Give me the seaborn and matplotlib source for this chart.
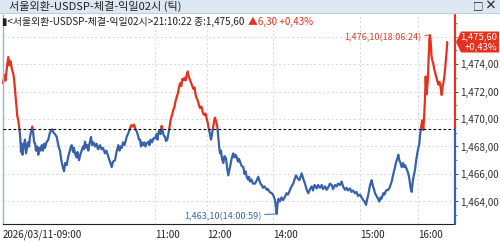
import matplotlib
matplotlib.use("Agg")
import matplotlib.pyplot as plt
import seaborn as sns
import pandas as pd
from matplotlib.patches import Rectangle, Polygon
from matplotlib.lines import Line2D
from matplotlib.ticker import FuncFormatter, MultipleLocator

# ---------------- data ----------------
tick_seq = [3, 4.5, 5.5, 7, 8.3, 9.5, 10.5, 12, 13.3, 14.2, 15, 16, 17.3, 18.3, 19.3, 20.3, 21, 21.7, 22.5, 23.5,
            25, 26, 26.7, 28, 29, 30, 31.2, 32.3, 33.3, 34.2, 35, 36, 37.2, 38.3, 39.5, 40.5, 41.7, 43, 44, 45,
            46.5, 48.3, 49.5, 50.5, 52.3, 53.5, 55, 56.7, 58, 59, 60, 61.3, 62.5, 64, 65.2, 66.7, 68, 69.5, 70.5, 71.7,
            73, 74, 75, 76.5, 77.5, 79, 80.3, 81.7, 83, 84, 85, 86.5, 87.5, 88.3, 89.5, 91, 92.2, 93.5, 95, 96.5,
            98, 100, 101.5, 103, 105, 106.5, 108.3, 110, 111.7, 113, 115, 116.5, 118.3, 119.5, 120.7, 121.7, 123, 124.5, 126.7, 128.5,
            130, 131.3, 132.7, 134, 135.3, 136.7, 138, 139, 140, 141, 142.2, 143.3, 144.5, 145.5, 146.5, 148.3, 149.5, 150.5, 152, 153.5,
            155, 156.5, 157.5, 158.3, 159.5, 160.5, 161.7, 162.7, 163.7, 165, 166, 167.3, 168.3, 169.3, 170.5, 171.7, 173.3, 174.5, 175.5, 176.7,
            178, 179, 180, 181.3, 182.3, 183.3, 184.5, 185.5, 186.7, 187.7, 188.7, 190, 191.2, 192.3, 193.3, 194.5, 195.5, 196.7, 198, 199,
            200, 201.5, 202.7, 204, 205.5, 206.7, 207.8, 209, 210, 211, 212.2, 213.3, 214.2, 215, 216.2, 217.3, 218.5, 219.3, 220, 221,
            222, 223.3, 224.5, 226, 227, 228.3, 229.2, 230, 231.3, 232.3, 233.3, 234.5, 235.5, 236.7, 238, 239, 240, 241.5, 243.3, 244.5,
            245.5, 246.7, 248, 249, 250, 251.5, 253, 255, 256.5, 258.3, 259.5, 260.5, 261.7, 263, 264.5, 266.7, 268, 269.5, 271.7, 273,
            274, 275, 275.8, 276.7, 277.5, 278.5, 280, 281.5, 283, 285, 286.5, 288, 290, 291.5, 293.3, 294.5, 296, 297.5, 299.3, 300.5,
            301.7, 303, 305, 306.5, 308.3, 310, 311.7, 313, 314.5, 316.7, 318, 320, 321.7, 323, 325, 326.7, 328, 330, 331.7, 333,
            335, 336.7, 338, 340, 341.7, 343, 345, 346.5, 348, 350, 351.5, 353, 355, 356.5, 358, 360, 361.5, 363.3, 364.5, 366,
            367, 368.3, 369.5, 370.5, 371.7, 373, 374, 375, 376.5, 378, 379.3, 380.5, 381.5, 383.3, 384.5, 386, 388.3, 389.5, 390.5, 391.7,
            393, 394, 395, 396.2, 397.3, 398.3, 399.3, 400.5, 401.7, 403, 404, 405, 406.5, 408.3, 409.5, 410.5, 411.7, 412.5, 413.5, 415,
            416, 417.3, 418.3, 419.3, 420, 420.7, 421.5, 422.3, 423.3, 424.3, 425, 425.7, 426.5, 427.3, 428, 428.3, 429, 429.3, 430, 430.7,
            431.5, 432.5, 433.3, 434.2, 435, 436, 436.7, 437.5, 438.3, 439.2, 440, 441, 441.7, 442.5, 443.3, 444.2, 445, 446, 446.7, 447.3]

price = [1472.6, 1473.2, 1472.8, 1473.8, 1474.5, 1473.9, 1474.2, 1473.6, 1473.3, 1472.8, 1472.1, 1471.3, 1470.2, 1469.9, 1469.3, 1468.6, 1467.6, 1468.2, 1467.4, 1468.0,
         1468.5, 1467.5, 1467.8, 1468.3, 1468.0, 1468.7, 1469.1, 1469.45, 1468.9, 1468.3, 1468.25, 1467.7, 1468.0, 1467.4, 1467.9, 1467.7, 1468.1, 1467.7, 1468.2, 1467.9,
         1468.3, 1468.5, 1468.9, 1469.1, 1469.25, 1469.0, 1468.9, 1468.7, 1468.2, 1467.9, 1467.7, 1467.0, 1466.6, 1466.2, 1466.8, 1466.65, 1467.2, 1467.6, 1467.9, 1468.1,
         1467.6, 1467.9, 1467.5, 1467.2, 1467.6, 1467.0, 1467.4, 1467.7, 1468.0, 1467.8, 1468.35, 1467.9, 1468.1, 1467.7, 1468.2, 1468.7, 1468.1, 1468.3, 1468.0, 1468.2,
         1467.8, 1468.1, 1467.8, 1467.9, 1467.5, 1467.7, 1467.25, 1466.9, 1466.5, 1466.9, 1467.0, 1467.6, 1468.1, 1467.7, 1468.0, 1467.9, 1468.3, 1468.1, 1468.7, 1469.0,
         1469.3, 1469.55, 1469.45, 1469.6, 1469.3, 1469.1, 1468.8, 1468.5, 1468.5, 1468.0, 1468.3, 1468.1, 1468.3, 1468.0, 1468.2, 1468.35, 1468.1, 1468.5, 1468.3, 1468.6,
         1468.6, 1468.9, 1468.5, 1468.95, 1469.2, 1468.9, 1469.5, 1469.1, 1468.8, 1468.7, 1468.4, 1468.5, 1468.9, 1469.3, 1469.9, 1470.2, 1470.65, 1470.9, 1471.3, 1471.6,
         1471.9, 1472.3, 1472.6, 1472.4, 1472.9, 1472.85, 1473.0, 1472.8, 1473.2, 1473.45, 1473.1, 1472.85, 1472.6, 1472.4, 1472.2, 1472.3, 1471.8, 1471.5, 1471.3, 1471.0,
         1470.8, 1470.9, 1470.5, 1470.3, 1470.4, 1470.05, 1469.7, 1469.2, 1468.9, 1468.5, 1469.0, 1469.45, 1469.9, 1470.1, 1469.8, 1469.45, 1468.5, 1467.9, 1467.5, 1467.7,
         1467.1, 1466.8, 1467.3, 1467.15, 1466.5, 1465.9, 1466.2, 1466.5, 1467.0, 1467.3, 1467.5, 1467.2, 1467.4, 1467.25, 1466.9, 1467.1, 1466.9, 1466.6, 1466.5, 1466.0,
         1466.2, 1465.8, 1465.6, 1465.8, 1465.45, 1465.6, 1465.3, 1465.3, 1465.5, 1465.8, 1465.5, 1465.3, 1465.2, 1465.0, 1465.1, 1464.85, 1464.9, 1464.7, 1464.6, 1464.5,
         1464.3, 1464.1, 1463.6, 1463.1, 1463.8, 1464.2, 1464.0, 1464.3, 1464.1, 1464.35, 1464.6, 1464.5, 1464.85, 1465.1, 1465.3, 1465.6, 1465.9, 1465.7, 1465.55, 1465.8,
         1466.05, 1465.7, 1465.3, 1464.9, 1464.6, 1464.9, 1465.1, 1464.8, 1465.2, 1464.95, 1465.2, 1465.0, 1465.2, 1464.9, 1465.1, 1464.85, 1465.0, 1465.3, 1465.2, 1464.9,
         1465.2, 1465.1, 1465.3, 1465.2, 1465.45, 1465.1, 1464.85, 1465.0, 1464.8, 1464.95, 1464.7, 1464.8, 1464.6, 1464.7, 1464.4, 1464.5, 1464.3, 1464.1, 1464.0, 1463.75,
         1464.1, 1464.5, 1465.0, 1465.3, 1465.55, 1465.1, 1464.9, 1464.6, 1464.4, 1464.2, 1464.0, 1464.3, 1464.2, 1464.6, 1464.5, 1464.8, 1464.85, 1465.0, 1465.2, 1465.45,
         1465.9, 1466.2, 1466.5, 1466.9, 1467.1, 1467.4, 1467.0, 1466.8, 1466.5, 1466.8, 1466.5, 1466.65, 1466.4, 1466.05, 1465.6, 1465.0, 1464.7, 1465.3, 1465.8, 1466.3,
         1466.9, 1467.5, 1467.9, 1468.2, 1468.8, 1469.2, 1469.6, 1469.9, 1469.2, 1470.4, 1471.5, 1473.1, 1471.8, 1472.35, 1473.0, 1473.8, 1475.0, 1475.75, 1476.1, 1475.6,
         1474.6, 1474.2, 1474.05, 1473.6, 1473.45, 1473.1, 1472.95, 1472.7, 1472.5, 1472.7, 1472.6, 1472.1, 1471.75, 1472.3, 1472.6, 1473.0, 1473.55, 1474.4, 1475.0, 1475.6]

prev_close = 1469.30
last_price = 1475.60
change_pct = 0.43
high_val, high_time = 1476.10, "18:06:24"
low_val, low_time = 1463.10, "14:00:59"
xtick_pos = [3, 155, 207, 273, 360, 418]
xtick_labels = ["2026/03/11-09:00", "11:00", "12:00", "14:00", "15:00", "16:00"]
ytick_vals = [1464, 1466, 1468, 1470, 1472, 1474]
grid_vals = [1464, 1466, 1468, 1470, 1472, 1474, 1476]
title = "서울외환-USDSP-체결-익일02시 (틱)"
info_text = "▮<서울외환-USDSP-체결-익일02시>21:10:22 종:1,475,60"
info_change = "▲6,30 +0,43%"

RED = "#E4321E"
BLUE = "#3762AA"
FONT = ["Noto Sans CJK KR", "DejaVu Sans"]


def kfmt(v):
    return f"{v:,.2f}".replace(".", ",")


sns.set_style("white")
plt.rcParams["font.family"] = FONT

W, H = 500, 242
fig = plt.figure(figsize=(W / 100, H / 100), dpi=100)
fig.patch.set_facecolor("white")
ax_left, ax_right, ax_top, ax_bot = 3, 455, 15, 224
ax = fig.add_axes([ax_left / W, (H - ax_bot) / H, (ax_right - ax_left) / W, (ax_bot - ax_top) / H])
ax.set_facecolor("white")

x_lo, x_hi = 3, 455
y_lo = 1470 - (ax_bot - 119) / 13.75
y_hi = 1470 + (119 - ax_top) / 13.75
ax.set_xlim(x_lo, x_hi)
ax.set_ylim(y_lo, y_hi)

df = pd.DataFrame({"seq": tick_seq, "price": price})
sns.lineplot(data=df, x="seq", y="price", color=RED, lw=1.6, estimator=None, ax=ax)
red_line = ax.lines[-1]
sns.lineplot(data=df, x="seq", y="price", color=BLUE, lw=1.6, estimator=None, ax=ax)
blue_line = ax.lines[-1]
red_clip = Rectangle((x_lo - 10, prev_close), 1000, 100, transform=ax.transData)
blue_clip = Rectangle((x_lo - 10, prev_close - 100), 1000, 100, transform=ax.transData)
red_line.set_clip_path(red_clip)
blue_line.set_clip_path(blue_clip)

# previous close line
ax.axhline(prev_close, color="black", lw=0.8, ls=(0, (2.5, 2)), zorder=3)

# grid
for gy in grid_vals:
    ax.axhline(gy, color="#D5D5D5", lw=0.7, ls=(0, (2, 2.5)), zorder=0)
for gx in xtick_pos[1:]:
    ax.axvline(gx, color="#D5D5D5", lw=0.7, ls=(0, (2, 2.5)), zorder=0)

# spines
for s in ["top", "right"]:
    ax.spines[s].set_visible(False)
ax.spines["bottom"].set_color("#222222")
ax.spines["bottom"].set_linewidth(0.8)
ax.spines["left"].set_color("#9FB3C8")
ax.spines["left"].set_linewidth(1.0)

frac = (prev_close - y_lo) / (y_hi - y_lo)
ax.axvline(x_hi, ymin=frac, ymax=1, color=RED, lw=1.6, clip_on=False, zorder=4)
ax.axvline(x_hi, ymin=0, ymax=frac, color=BLUE, lw=1.6, clip_on=False, zorder=4)

# x ticks
ax.set_xticks(xtick_pos)
ax.set_xticklabels(xtick_labels, ha="left", fontsize=7.0, color="#222222")
ax.tick_params(axis="x", direction="out", length=3, width=0.6, pad=1.2, color="#222222")
ax.set_xlabel("")

# y ticks on right
ax.yaxis.tick_right()
ax.set_yticks(ytick_vals)
ax.yaxis.set_major_formatter(FuncFormatter(lambda v, p: kfmt(v)))
ax.yaxis.set_minor_locator(MultipleLocator(1))
ax.tick_params(axis="y", which="major", direction="out", length=2.5, width=0.6, pad=1.5,
               labelsize=7.2, colors="#333333")
ax.tick_params(axis="y", which="minor", direction="out", length=1.5, width=0.5, colors="#555555")
ax.set_ylabel("")

# high / low annotations
hi_i = price.index(max(price))
lo_i = price.index(min(price))
ax.annotate(f"{kfmt(high_val)}({high_time})", xy=(tick_seq[hi_i], high_val), xytext=(-6, -2),
            textcoords="offset points", ha="right", va="center", fontsize=6.6, color="#D8432E",
            arrowprops=dict(arrowstyle="-", color="#D8432E", lw=0.7, shrinkA=0, shrinkB=0))
ax.annotate(f"{kfmt(low_val)}({low_time})", xy=(tick_seq[lo_i], low_val), xytext=(-11, -2),
            textcoords="offset points", ha="right", va="center", fontsize=6.6, color="#3A68B0",
            arrowprops=dict(arrowstyle="-", color="#3A68B0", lw=0.7, shrinkA=0, shrinkB=0))

# header bar
fig.add_artist(Rectangle((0, 1 - 13 / H), 1, 13 / H, transform=fig.transFigure,
                         facecolor="#DCE7F3", edgecolor="none", zorder=1))
fig.add_artist(Line2D([0, 1], [1 - 13 / H, 1 - 13 / H], transform=fig.transFigure,
                      color="#B4C6D8", lw=0.6, zorder=2))
fig.text(9 / W, 1 - 6.5 / H, title, fontsize=8.0, va="center", ha="left", color="#222222", zorder=3)
fig.text(478 / W, 1 - 6.5 / H, "□", fontsize=7.5, va="center", ha="center", color="#222222", zorder=3)
fig.text(491 / W, 1 - 6.5 / H, "×", fontsize=8.5, va="center", ha="center", color="#222222",
         fontweight="bold", zorder=3)

# info line
t_info = fig.text(2 / W, 1 - 22 / H, info_text, fontsize=7.1, va="center", ha="left",
                  color="#222222", zorder=3)
renderer = fig.canvas.get_renderer()
bb = t_info.get_window_extent(renderer=renderer)
fig.text((bb.x1 + 4) / W, 1 - 22 / H, info_change, fontsize=7.1, va="center", ha="left",
         color=RED, zorder=3)

# current price tag
_, ypix = ax.transData.transform((x_hi, last_price))
yc = ypix
top, bot = yc + 10.5, yc - 10.5
pts = [(461, top), (499, top), (499, bot), (461, bot), (456, yc)]
pts_fig = [(px / W, py / H) for px, py in pts]
fig.add_artist(Polygon(pts_fig, closed=True, transform=fig.transFigure, facecolor=RED,
                       edgecolor="none", zorder=10))
fig.text(497 / W, (yc + 4.8) / H, kfmt(last_price), fontsize=6.8, color="white", ha="right",
         va="center", zorder=11)
fig.text(497 / W, (yc - 5.0) / H, f"+{change_pct:.2f}%".replace(".", ","), fontsize=6.8,
         color="white", ha="right", va="center", zorder=11)

fig.savefig("out.png", dpi=100, facecolor="white")
